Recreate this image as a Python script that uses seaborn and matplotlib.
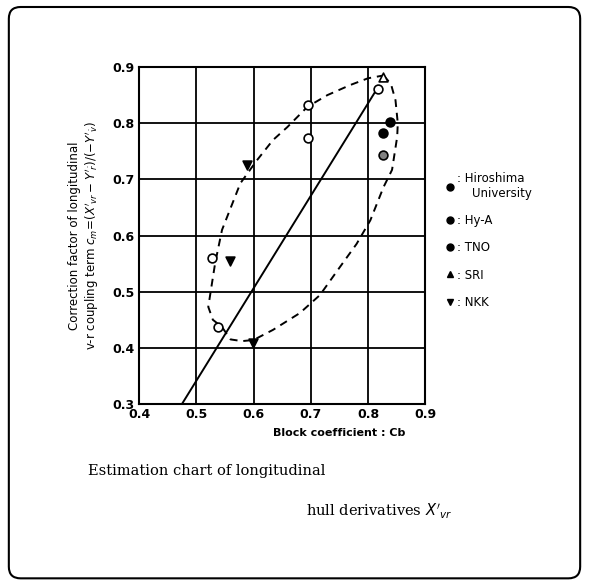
import matplotlib
matplotlib.use('Agg')
import matplotlib.pyplot as plt
from matplotlib.patches import FancyBboxPatch
from matplotlib.lines import Line2D
import pandas as pd
import seaborn as sns

# measured points (block coefficient, correction factor)
hiroshima_x = [0.696, 0.696, 0.818, 0.528, 0.538]
hiroshima_y = [0.832, 0.774, 0.861, 0.560, 0.437]
hya_x = [0.839, 0.827]
hya_y = [0.802, 0.783]
tno_x = [0.827]
tno_y = [0.743]
sri_x = [0.827]
sri_y = [0.882]
nkk_x = [0.589, 0.599, 0.559]
nkk_y = [0.726, 0.409, 0.555]

# estimation line
line_x = [0.475, 0.815]
line_y = [0.30, 0.86]

# dashed envelope traced round the data
env_x = [0.827, 0.840, 0.848, 0.852, 0.851, 0.842, 0.827, 0.804, 0.780, 0.751,
         0.716, 0.681, 0.634, 0.600, 0.580, 0.560, 0.545, 0.529, 0.521, 0.533,
         0.545, 0.577, 0.606, 0.634, 0.659, 0.694, 0.729, 0.769, 0.800, 0.827]
env_y = [0.885, 0.870, 0.841, 0.800, 0.776, 0.717, 0.686, 0.627, 0.585, 0.544,
         0.494, 0.462, 0.432, 0.414, 0.412, 0.415, 0.437, 0.450, 0.473, 0.551,
         0.610, 0.693, 0.734, 0.770, 0.793, 0.829, 0.850, 0.868, 0.880, 0.885]

x_ticks = [0.4, 0.5, 0.6, 0.7, 0.8, 0.9]
y_ticks = [0.3, 0.4, 0.5, 0.6, 0.7, 0.8, 0.9]

sns.set_style('white')
plt.rcParams['font.family'] = ['DejaVu Sans']
plt.rcParams['text.color'] = 'black'
plt.rcParams['axes.labelcolor'] = 'black'
plt.rcParams['xtick.color'] = 'black'
plt.rcParams['ytick.color'] = 'black'

fig = plt.figure(figsize=(5.89, 5.83), dpi=100)
ax = fig.add_axes([0.236, 0.307, 0.486, 0.578])

sns.lineplot(x=line_x, y=line_y, ax=ax, color='black', lw=1.4, sort=False, estimator=None)
sns.lineplot(x=env_x, y=env_y, ax=ax, color='black', lw=1.4, sort=False, estimator=None,
             linestyle=(0, (4, 3)))

groups = [
    ('Hiroshima\n    University', hiroshima_x, hiroshima_y, 'o', 'white'),
    ('Hy-A', hya_x, hya_y, 'o', 'black'),
    ('TNO', tno_x, tno_y, 'o', 'gray'),
    ('SRI', sri_x, sri_y, '^', 'white'),
    ('NKK', nkk_x, nkk_y, 'v', 'black'),
]
handles = []
for name, xs, ys, mk, fc in groups:
    df = pd.DataFrame({'cb': xs, 'c': ys})
    sns.scatterplot(data=df, x='cb', y='c', ax=ax, marker=mk, s=40,
                    facecolor=fc, edgecolor='black', linewidth=1.2, zorder=5)
    handles.append(Line2D([], [], marker=mk, ls='', color='black',
                          markerfacecolor='black', markersize=5, label=': ' + name))

ax.set_xlim(0.4, 0.9)
ax.set_ylim(0.3, 0.9)
ax.set_xticks(x_ticks)
ax.set_yticks(y_ticks)
ax.set_xticklabels([f'{v:.1f}' for v in x_ticks], fontsize=9, fontweight='bold')
ax.set_yticklabels([f'{v:.1f}' for v in y_ticks], fontsize=9, fontweight='bold')
ax.grid(True, color='black', lw=1.3)
for s in ax.spines.values():
    s.set_color('black')
    s.set_linewidth(1.5)
ax.tick_params(length=0, pad=3)

ax.set_xlabel('Block coefficient : Cb', fontsize=8, fontweight='bold')
ax.xaxis.set_label_coords(0.7, -0.07)
ax.set_ylabel('Correction factor of longitudinal\n'
              r"v-r coupling term $c_m\!=\!(X'_{vr}-Y'_{\dot r})/(-Y'_{\dot v})$",
              fontsize=8.5, labelpad=8)

ax.legend(handles=handles, loc='upper left', bbox_to_anchor=(1.03, 0.72),
          frameon=False, fontsize=8.5, handletextpad=0.1, labelspacing=1.2,
          handlelength=1.0)

fig.text(0.15, 0.185, 'Estimation chart of longitudinal', fontsize=10.5,
         family='DejaVu Serif')
fig.text(0.52, 0.115, r"hull derivatives $X'_{vr}$", fontsize=10.5,
         family='DejaVu Serif')

frame = FancyBboxPatch((0.015, 0.008), 0.97, 0.98, boxstyle='round,pad=0,rounding_size=0.02',
                       transform=fig.transFigure, fill=False, ec='black', lw=1.5)
fig.patches.append(frame)

fig.savefig('out.png', dpi=100)
